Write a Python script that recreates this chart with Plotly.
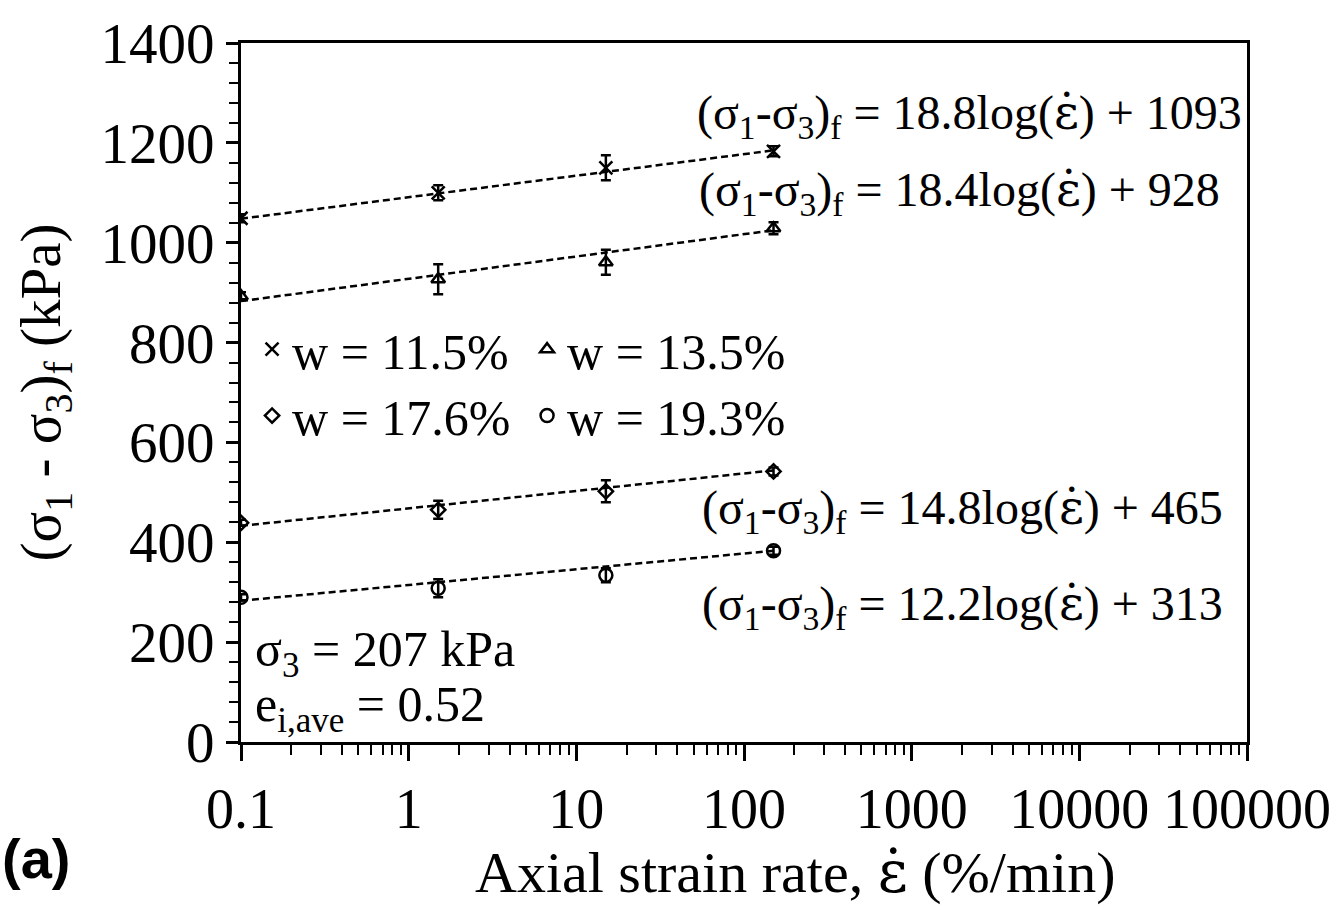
import plotly.graph_objects as go

# ---- data ----
rates = [0.1, 1.5, 15, 150]
series_names = ["w = 11.5%", "w = 13.5%", "w = 17.6%", "w = 19.3%"]
s115 = [1049, 1100, 1150, 1183]
e115 = [8, 15, 25, 10]
s135 = [893, 927, 961, 1029]
e135 = [8, 30, 25, 12]
s176 = [439, 465, 502, 542]
e176 = [6, 18, 22, 8]
s193 = [290, 308, 334, 383]
e193 = [6, 18, 14, 8]

fit_x = [0.1, 150]
fit115 = [1048, 1185]
fit135 = [883, 1025]
fit176 = [433, 544]
fit193 = [283, 383]

EPS = '<span style="font-family:DejaVu Serif">ε̇</span>'
equations = [
    "(σ<sub>1</sub>-σ<sub>3</sub>)<sub>f</sub> = 18.8log(" + EPS + ") + 1093",
    "(σ<sub>1</sub>-σ<sub>3</sub>)<sub>f</sub> = 18.4log(" + EPS + ") + 928",
    "(σ<sub>1</sub>-σ<sub>3</sub>)<sub>f</sub> = 14.8log(" + EPS + ") + 465",
    "(σ<sub>1</sub>-σ<sub>3</sub>)<sub>f</sub> = 12.2log(" + EPS + ") + 313",
]
x_ticks = [0.1, 1, 10, 100, 1000, 10000, 100000]
x_tick_text = ["0.1", "1", "10", "100", "1000", "10000", "100000"]

FONT = "Liberation Serif"
BLACK = "black"

fig = go.Figure()

# fit lines
for fy in [fit115, fit135, fit176, fit193]:
    fig.add_trace(go.Scatter(
        x=fit_x, y=fy, mode="lines", showlegend=False, hoverinfo="skip",
        line=dict(color=BLACK, width=2.5, dash="7px,4px"),
    ))

symbols = ["x-thin-open", "triangle-up-open", "diamond-open", "circle-open"]
sizes = [13, 12, 11, 13]
legends = ["legend", "legend", "legend2", "legend2"]
for name, ys, es, sym, sz, lg in zip(series_names, [s115, s135, s176, s193],
                                     [e115, e135, e176, e193], symbols, sizes, legends):
    fig.add_trace(go.Scatter(
        x=rates, y=ys, mode="markers", name=name, legend=lg,
        marker=dict(symbol=sym, size=sz, color=BLACK,
                    line=dict(color=BLACK, width=2.5)),
        error_y=dict(type="data", array=es, visible=True, color=BLACK,
                     thickness=2.5, width=5),
    ))

# equation annotations
eq_pos = [(0.451, 0.897), (0.453, 0.787), (0.456, 0.332), (0.456, 0.194)]
for txt, (ax, ay) in zip(equations, eq_pos):
    fig.add_annotation(text=txt, x=ax, y=ay, xref="paper", yref="paper",
                       xanchor="left", yanchor="middle", showarrow=False,
                       font=dict(family=FONT, size=48, color=BLACK))

fig.add_annotation(text="σ<sub>3</sub> = 207 kPa", x=0.012, y=0.128,
                   xref="paper", yref="paper", xanchor="left", yanchor="middle",
                   showarrow=False, font=dict(family=FONT, size=50, color=BLACK))
fig.add_annotation(text="e<sub>i,ave</sub> = 0.52", x=0.012, y=0.048,
                   xref="paper", yref="paper", xanchor="left", yanchor="middle",
                   showarrow=False, font=dict(family=FONT, size=50, color=BLACK))

# x axis title (offset right as in reference)
fig.add_annotation(text="Axial strain rate, " + EPS + " (%/min)", x=0.551, y=-0.186,
                   xref="paper", yref="paper", xanchor="center", yanchor="middle",
                   showarrow=False, font=dict(family=FONT, size=58, color=BLACK))
fig.add_annotation(text="<b>(a)</b>", x=-0.2396, y=-0.167,
                   xref="paper", yref="paper", xanchor="left", yanchor="middle",
                   showarrow=False, font=dict(family="Liberation Sans", size=56, color=BLACK))

fig.update_layout(
    width=1343, height=909,
    margin=dict(l=241, r=96, t=37, b=167),
    paper_bgcolor="white", plot_bgcolor="white",
    font=dict(family=FONT, color=BLACK),
    legend=dict(orientation="h", x=0.011, y=0.562, xanchor="left", yanchor="middle",
                entrywidth=230, font=dict(family=FONT, size=50, color=BLACK),
                bgcolor="rgba(0,0,0,0)", traceorder="normal"),
    legend2=dict(orientation="h", x=0.011, y=0.467, xanchor="left", yanchor="middle",
                 entrywidth=230, font=dict(family=FONT, size=50, color=BLACK),
                 bgcolor="rgba(0,0,0,0)", traceorder="normal"),
)

fig.update_xaxes(
    type="log", range=[-1, 5], showgrid=False, zeroline=False,
    showline=True, linecolor=BLACK, linewidth=3, mirror=True,
    ticks="outside", ticklen=16, tickwidth=2.5, tickcolor=BLACK,
    tickvals=x_ticks, ticktext=x_tick_text,
    tickfont=dict(family=FONT, size=56, color=BLACK),
    minor=dict(ticks="outside", ticklen=10, tickwidth=2, tickcolor=BLACK, dtick="D1", showgrid=False),
)
fig.update_yaxes(
    range=[0, 1400], dtick=200, showgrid=False, zeroline=False,
    showline=True, linecolor=BLACK, linewidth=3, mirror=True,
    ticks="outside", ticklen=12, tickwidth=2.5, tickcolor=BLACK,
    tickfont=dict(family=FONT, size=57, color=BLACK),
    minor=dict(ticks="outside", ticklen=9, tickwidth=2, tickcolor=BLACK, dtick=40, showgrid=False),
    title=dict(text="(σ<sub>1</sub> - σ<sub>3</sub>)<sub>f</sub> (kPa)",
               font=dict(family=FONT, size=57, color=BLACK), standoff=22),
)

fig.write_html("out.html")
